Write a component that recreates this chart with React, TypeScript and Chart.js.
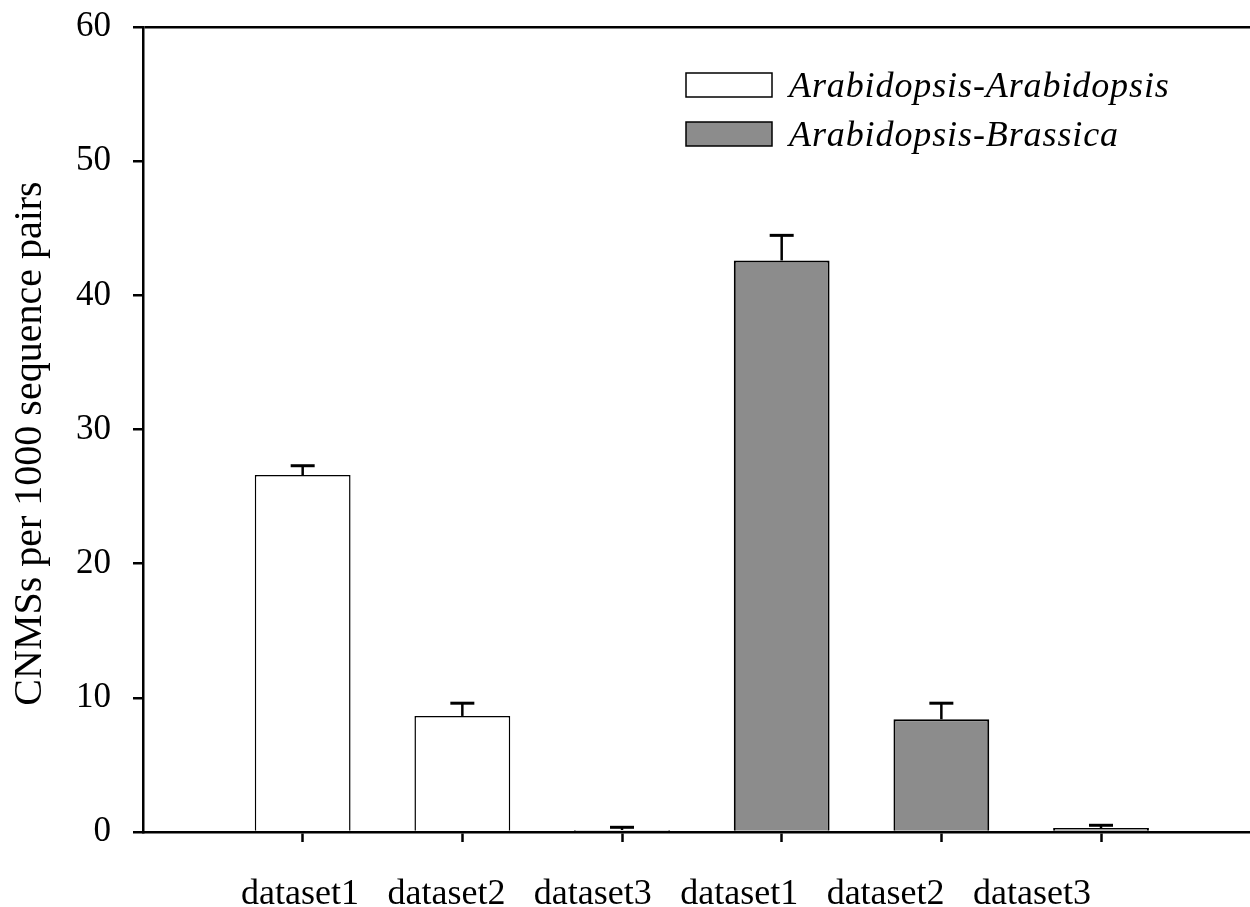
import React, { useEffect, useRef } from "react";
import { Chart, registerables } from "chart.js";

Chart.register(...registerables);

const categories = ["dataset1", "dataset2", "dataset3", "dataset1", "dataset2", "dataset3"];
const seriesNames = ["Arabidopsis-Arabidopsis", "Arabidopsis-Brassica"];
const aaValues: (number | null)[] = [26.6, 8.65, 0.15, null, null, null];
const aaErrors: (number | null)[] = [0.7, 0.95, 0.2, null, null, null];
const abValues: (number | null)[] = [null, null, null, 42.6, 8.4, 0.3];
const abErrors: (number | null)[] = [null, null, null, 1.87, 1.2, 0.2];
const yTicks = [0, 10, 20, 30, 40, 50, 60];
const yTitle = "CNMSs per 1000 sequence pairs";

const FONT = "'Liberation Serif', 'Times New Roman', serif";
const GRAY = "#8c8c8c";

function toPoints(vals: (number | null)[]) {
  const out: { x: number; y: number }[] = [];
  vals.forEach((v, i) => {
    if (v != null) out.push({ x: i + 1, y: v });
  });
  return out;
}

const errorBarPlugin = {
  id: "errorBars",
  afterDatasetsDraw(chart: any) {
    const ctx = chart.ctx;
    const yScale = chart.scales.y;
    chart.data.datasets.forEach((ds: any, di: number) => {
      const meta = chart.getDatasetMeta(di);
      const errs: (number | null)[] = ds.errors || [];
      meta.data.forEach((el: any, j: number) => {
        const parsed = meta.controller.getParsed(j);
        const e = errs[parsed.x - 1];
        if (e == null) return;
        const x = el.x;
        const yTop = yScale.getPixelForValue(parsed.y);
        const yCap = yScale.getPixelForValue(parsed.y + e);
        ctx.save();
        ctx.strokeStyle = "#000";
        ctx.lineWidth = 2.5;
        ctx.beginPath();
        ctx.moveTo(x, yTop);
        ctx.lineTo(x, yCap);
        ctx.stroke();
        ctx.lineWidth = 3;
        ctx.beginPath();
        ctx.moveTo(x - 12, yCap);
        ctx.lineTo(x + 12, yCap);
        ctx.stroke();
        ctx.restore();
      });
    });
  },
};

const legendPlugin = {
  id: "customLegend",
  afterDraw(chart: any) {
    const ctx = chart.ctx;
    const area = chart.chartArea;
    const boxX = area.left + 543;
    const boxW = 86;
    const boxH = 24;
    const rowTop = [area.top + 46, area.top + 95];
    ctx.save();
    chart.data.datasets.forEach((ds: any, i: number) => {
      const y = rowTop[i];
      ctx.fillStyle = ds.backgroundColor;
      ctx.fillRect(boxX, y, boxW, boxH);
      ctx.strokeStyle = "#000";
      ctx.lineWidth = 1.5;
      ctx.strokeRect(boxX, y, boxW, boxH);
      ctx.fillStyle = "#000";
      ctx.font = `italic 36px ${FONT}`;
      try {
        (ctx as any).letterSpacing = "0.9px";
      } catch (e) {}
      ctx.textBaseline = "alphabetic";
      ctx.textAlign = "left";
      ctx.fillText(ds.label, boxX + boxW + 17, y + boxH);
    });
    ctx.restore();
  },
};

export default function App() {
  const ref = useRef<HTMLCanvasElement | null>(null);

  useEffect(() => {
    if (!ref.current) return;
    Chart.defaults.font.family = FONT;
    Chart.defaults.color = "#000";
    const chart = new Chart(ref.current, {
      type: "bar",
      data: {
        datasets: [
          {
            label: seriesNames[0],
            data: toPoints(aaValues) as any,
            errors: aaErrors,
            backgroundColor: "#ffffff",
            borderColor: "#000000",
            borderWidth: 1.5,
          } as any,
          {
            label: seriesNames[1],
            data: toPoints(abValues) as any,
            errors: abErrors,
            backgroundColor: GRAY,
            borderColor: "#000000",
            borderWidth: 2,
          } as any,
        ],
      },
      options: {
        responsive: false,
        animation: false,
        devicePixelRatio: 1,
        layout: { padding: { top: 27, left: 0, right: 0, bottom: 0 } },
        datasets: {
          bar: { grouped: false, categoryPercentage: 1, barPercentage: 0.6 },
        },
        plugins: {
          legend: { display: false },
          tooltip: { enabled: false },
        },
        scales: {
          x: {
            type: "linear",
            position: "bottom",
            weight: 0,
            min: 0,
            max: 6.933,
            offset: false,
            afterBuildTicks: (scale: any) => {
              scale.ticks = categories.map((_, i) => ({ value: i + 1 }));
            },
            afterFit: (scale: any) => {
              scale.height = 12;
              scale.paddingLeft = 0;
              scale.paddingRight = 0;
            },
            ticks: { display: false, autoSkip: false },
            grid: {
              offset: false,
              drawOnChartArea: false,
              drawTicks: true,
              tickLength: 10,
              tickColor: "#000",
              tickWidth: 2.5,
            },
            border: { display: true, color: "#000", width: 2.5 },
          },
          xLabels: {
            type: "linear",
            position: "bottom",
            weight: 1,
            min: -0.0724,
            max: 7.489,
            offset: false,
            afterBuildTicks: (scale: any) => {
              scale.ticks = categories.map((_, i) => ({ value: i + 1 }));
            },
            afterFit: (scale: any) => {
              scale.height = 63;
              scale.paddingLeft = 0;
              scale.paddingRight = 0;
            },
            ticks: {
              autoSkip: false,
              maxRotation: 0,
              padding: 29,
              color: "#000",
              font: { size: 36, family: FONT },
              callback: (v: any) => categories[Math.round(Number(v)) - 1] ?? "",
            },
            grid: { display: false, drawTicks: false, drawOnChartArea: false },
            border: { display: false },
          },
          y: {
            type: "linear",
            min: 0,
            max: 60,
            afterBuildTicks: (scale: any) => {
              scale.ticks = yTicks.map((v) => ({ value: v }));
            },
            afterFit: (scale: any) => {
              scale.width = 143;
              scale.paddingTop = 0;
              scale.paddingBottom = 0;
            },
            ticks: {
              padding: 22,
              color: "#000",
              font: { size: 35, family: FONT },
            },
            grid: {
              drawOnChartArea: true,
              color: (c: any) => (c.tick && c.tick.value === 60 ? "#000" : "rgba(0,0,0,0)"),
              lineWidth: 2.5,
              tickLength: 10,
              tickColor: "#000",
              tickWidth: 2.5,
            },
            border: { display: true, color: "#000", width: 2.5 },
            title: {
              display: true,
              text: yTitle + "\u00a0\u00a0\u2009",
              color: "#000",
              font: { size: 40, family: FONT },
              padding: { top: 6, bottom: 0 },
            },
          },
        },
      } as any,
      plugins: [errorBarPlugin, legendPlugin],
    });
    return () => chart.destroy();
  }, []);

  return (
    <div style={{ position: "fixed", left: 0, top: 0, width: 1250, height: 907, background: "#fff" }}>
      <canvas ref={ref} width={1250} height={907} style={{ width: 1250, height: 907, display: "block" }} />
    </div>
  );
}
